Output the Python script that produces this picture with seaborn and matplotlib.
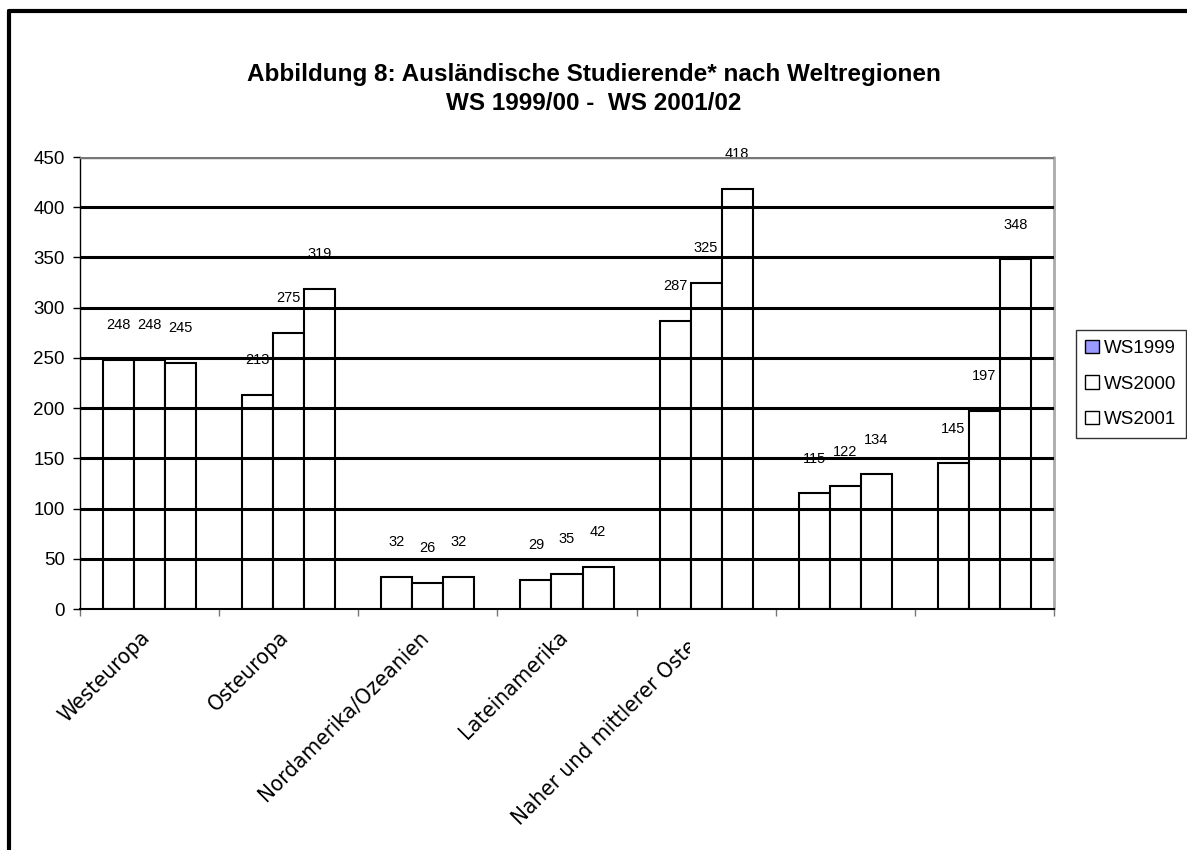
import matplotlib
matplotlib.use("Agg")
import matplotlib.pyplot as plt
from matplotlib import font_manager
from matplotlib.lines import Line2D
from matplotlib.patches import Patch, Rectangle
import pandas as pd
import seaborn as sns

categories = ['Westeuropa', 'Osteuropa', 'Nordamerika/Ozeanien', 'Lateinamerika',
              'Naher und mittlerer Osten', 'Afrika', 'Asien']
# only the first five category names are printed on the original axis
tick_labels = ['Westeuropa', 'Osteuropa', 'Nordamerika/Ozeanien', 'Lateinamerika',
               'Naher und mittlerer Osten', '', '']
series = ['WS1999', 'WS2000', 'WS2001']
ws1999 = [248, 213, 32, 29, 287, 115, 145]
ws2000 = [248, 275, 26, 35, 325, 122, 197]
ws2001 = [245, 319, 32, 42, 418, 134, 348]
y_ticks = [0, 50, 100, 150, 200, 250, 300, 350, 400, 450]

rows = []
for s, vals in zip(series, [ws1999, ws2000, ws2001]):
    for c, v in zip(categories, vals):
        rows.append({'Region': c, 'Semester': s, 'Anzahl': v})
df = pd.DataFrame(rows)

sns.set_style('white')
plt.rcParams['font.family'] = ['Liberation Sans', 'DejaVu Sans']
plt.rcParams['text.color'] = 'black'
plt.rcParams['xtick.color'] = 'black'
plt.rcParams['ytick.color'] = 'black'

# narrow face for the squeezed category labels, whatever is installed
fonts = font_manager.fontManager.ttflist
if any(f.name == 'Liberation Sans Narrow' for f in fonts):
    cat_font = dict(family=['Liberation Sans Narrow', 'Liberation Sans'])
elif any(f.name == 'DejaVu Sans' and f.stretch == 'condensed' for f in fonts):
    cat_font = dict(family=['DejaVu Sans'], stretch='condensed')
else:
    cat_font = dict(family=['Liberation Sans'])

W, H = 1187, 850
fig = plt.figure(figsize=(W / 100, H / 100), dpi=100)
ax = fig.add_axes([80 / W, 1 - 609 / H, (1054 - 80) / W, (609 - 157) / H])

sns.barplot(data=df, x='Region', y='Anzahl', hue='Semester', order=categories,
            hue_order=series, palette=['white', 'white', 'white'],
            edgecolor='black', linewidth=1.5, width=0.67, ax=ax, legend=False,
            zorder=2)

for cont in ax.containers:
    ax.bar_label(cont, padding=20, fontsize=10.5, color='black')

ax.set_ylim(0, 450)
ax.set_xlim(-0.5, len(categories) - 0.5)
ax.set_yticks(y_ticks)
ax.set_yticklabels([str(t) for t in y_ticks], fontsize=13.5)
ax.set_xticks([i - 0.5 for i in range(len(categories) + 1)])
ax.set_xticklabels([])
ax.tick_params(axis='y', left=True, length=5, width=1, color='black', pad=6)
ax.tick_params(axis='x', bottom=True, length=5, width=1, color='#777777')
ax.set_xlabel('')
ax.set_ylabel('')

# horizontal gridlines, drawn over the bars like the original
for t in y_ticks[1:-1]:
    ax.axhline(t, color='black', lw=2.2, zorder=4)
ax.axhline(450, color='#777777', lw=2.5, zorder=4)

for side in ['top', 'right']:
    ax.spines[side].set_visible(False)
ax.spines['left'].set_color('black')
ax.spines['left'].set_linewidth(1)
ax.spines['bottom'].set_color('black')
ax.spines['bottom'].set_linewidth(1.5)
ax.plot([1, 1], [0, 1], transform=ax.transAxes, color='#aaaaaa', lw=2, clip_on=False)

# rotated category labels, the fifth one cut off as in the original
clip = Rectangle((0, 0), 690 / W, 1, transform=fig.transFigure)
for i, lab in enumerate(tick_labels):
    if not lab:
        continue
    t = ax.text(i - 0.07, -0.04, lab, transform=ax.get_xaxis_transform(), rotation=45,
                rotation_mode='anchor', ha='right', va='top', fontsize=16,
                **cat_font)
    t.set_clip_path(clip)
    t.set_clip_on(True)

# title
fig.text(0.5, 1 - 75 / H, 'Abbildung 8: Ausländische Studierende* nach Weltregionen',
         ha='center', va='center', fontsize=17.5, fontweight='bold')
fig.text(0.5, 1 - 103 / H, 'WS 1999/00 -  WS 2001/02',
         ha='center', va='center', fontsize=17.5, fontweight='bold')

# legend
handles = [Patch(facecolor='#9999ff', edgecolor='black', label=series[0]),
           Patch(facecolor='white', edgecolor='black', label=series[1]),
           Patch(facecolor='white', edgecolor='black', label=series[2])]
leg = fig.legend(handles=handles, loc='center left',
                 bbox_to_anchor=(1076 / W, 1 - 384 / H), fontsize=13.5,
                 frameon=True, fancybox=False, edgecolor='black',
                 handlelength=0.7, handleheight=0.7, handletextpad=0.3,
                 labelspacing=1.0, borderpad=0.5, borderaxespad=0)
leg.get_frame().set_linewidth(1)

# outer chart border (top and left visible)
fig.add_artist(Line2D([9 / W, 1], [1 - 11 / H, 1 - 11 / H], transform=fig.transFigure,
                      color='black', lw=3))
fig.add_artist(Line2D([9 / W, 9 / W], [0, 1 - 11 / H], transform=fig.transFigure,
                      color='black', lw=3))

fig.savefig('out.png', dpi=100)
